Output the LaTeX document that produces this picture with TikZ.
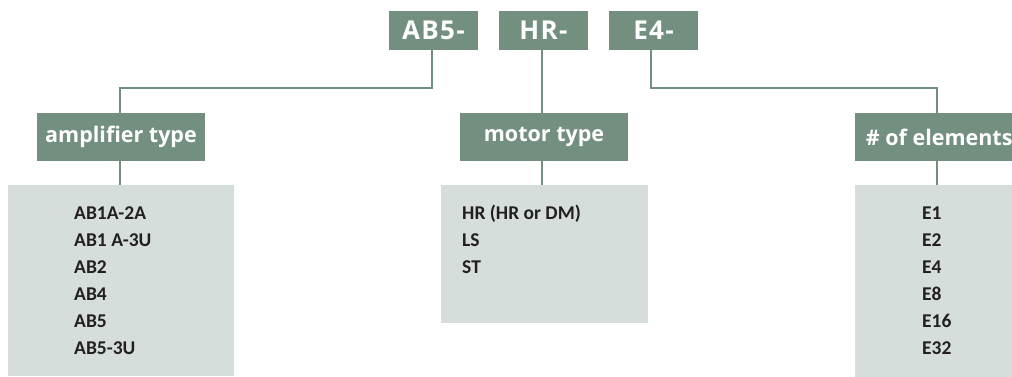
\documentclass[tikz,border=0pt]{standalone}
\usepackage{fontspec}
\setmainfont{Open Sans}
\newfontfamily\itemfont{Carlito}
\definecolor{hdr}{RGB}{114,143,128}
\definecolor{lst}{RGB}{213,222,219}
\definecolor{txt}{RGB}{35,31,32}
\begin{document}
\begin{tikzpicture}[x=1pt,y=-1pt,
  code/.style={fill=hdr,text=white,inner sep=0pt,minimum width=89pt,minimum height=39pt,font=\fontsize{26}{26}\bfseries\addfontfeature{LetterSpace=5}\selectfont},
  cat/.style={fill=hdr,text=white,inner sep=0pt,minimum width=168pt,minimum height=48pt,font=\fontsize{21.5}{22}\bfseries\selectfont},
  listbox/.style={fill=lst,inner sep=0pt,anchor=north west},
  item/.style={anchor=base west,inner sep=0pt,text=txt,font=\itemfont\fontsize{19.5}{20}\bfseries\selectfont},
  wire/.style={draw=hdr,line width=2pt}]
\useasboundingbox (0,0) rectangle (1012,377);
\clip (0,0) rectangle (1012,377);
% list boxes
\node[listbox,minimum width=226pt,minimum height=191pt] (l1) at (8,185) {};
\node[listbox,minimum width=207pt,minimum height=138pt] (l2) at (441,185) {};
\node[listbox,minimum width=226pt,minimum height=192pt] (l3) at (855,185) {};
% codes
\node[code] (ab) at (433.5,30.5) {AB5-};
\node[code] (hr) at (543.5,30.5) {HR-};
\node[code] (e4) at (653.5,30.5) {E4-};
% categories
\node[cat] (amp) at (121,137) {amplifier type};
\node[cat] (mot) at (544,137) {motor type};
\node[cat,anchor=west] (ele) at (855,137) {\hspace*{8pt}\# of elements\hspace*{8pt}};
% wires
\coordinate (c1) at (120,88);
\coordinate (c2) at (937,88);
\draw[wire] (432,50) |- (c1) -- (120,113);
\draw[wire] (542,50) -- (542,113);
\draw[wire] (651,50) |- (c2) -- (937,113);
\draw[wire] (120,161) -- (120,185);
\draw[wire] (542,161) -- (542,185);
\draw[wire] (937,161) -- (937,185);
% items
\node[item] (a1) at (74,219) {AB1A-2A};
\node[item] (a2) at (74,246) {AB1 A-3U};
\node[item] (a3) at (74,273) {AB2};
\node[item] (a4) at (74,300) {AB4};
\node[item] (a5) at (74,327) {AB5};
\node[item] (a6) at (74,354) {AB5-3U};
\node[item] (m1) at (462,219.5) {HR (HR or DM)};
\node[item] (m2) at (462,246.5) {LS};
\node[item] (m3) at (462,273) {ST};
\node[item] (e1) at (922,219) {E1};
\node[item] (e2) at (922,246) {E2};
\node[item] (e3) at (922,273) {E4};
\node[item] (e5) at (922,300) {E8};
\node[item] (e6) at (922,327) {E16};
\node[item] (e7) at (922,354) {E32};
\end{tikzpicture}
\end{document}
